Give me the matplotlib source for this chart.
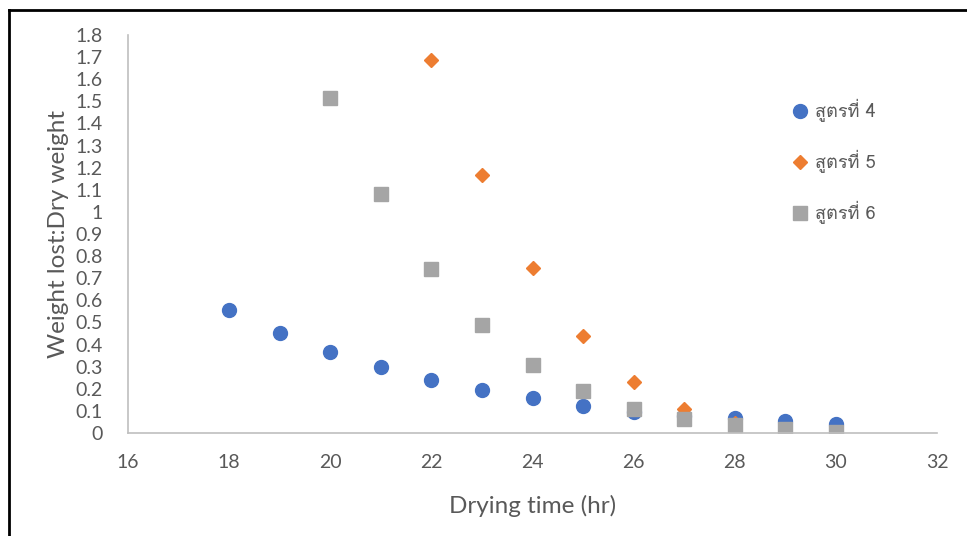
import matplotlib.pyplot as plt
from matplotlib import font_manager
from matplotlib.ft2font import FT2Font
from matplotlib.lines import Line2D

# Data
x4 = [18, 19, 20, 21, 22, 23, 24, 25, 26, 27, 28, 29, 30]
y4 = [0.556, 0.452, 0.366, 0.298, 0.240, 0.194, 0.158, 0.124, 0.097, 0.078, 0.066, 0.052, 0.040]

x5 = [22, 23, 24, 25, 26, 27, 28, 29, 30]
y5 = [1.687, 1.167, 0.746, 0.439, 0.231, 0.110, 0.045, 0.015, -0.010]

x6 = [20, 21, 22, 23, 24, 25, 26, 27, 28, 29, 30]
y6 = [1.515, 1.081, 0.742, 0.488, 0.308, 0.190, 0.110, 0.063, 0.036, 0.018, 0.004]

labels = ['สูตรที่ 4', 'สูตรที่ 5', 'สูตรที่ 6']


# find an installed font that has Thai glyphs
def thai_family():
    for f in font_manager.fontManager.ttflist:
        try:
            if 0x0E2A in FT2Font(f.fname).get_charmap():
                return f.name
        except Exception:
            pass
    return 'DejaVu Sans'


thai = thai_family()
plt.rcParams['font.family'] = ['Lato', 'DejaVu Sans']

fig = plt.figure(figsize=(9.67, 5.36), dpi=100)
ax = fig.add_axes([0.1324, 0.1922, 0.8366, 0.7425])

ax.plot(x4, y4, 'o', color='#4472C4', markersize=10, label=labels[0])
ax.plot(x5, y5, 'D', color='#ED7D31', markersize=7.5, label=labels[1])
ax.plot(x6, y6, 's', color='#A5A5A5', markersize=9.5, label=labels[2])

ax.set_xlim(16, 32)
ax.set_ylim(0, 1.8)
ax.set_xticks(range(16, 33, 2))
yt = [i / 10 for i in range(0, 19)]
ax.set_yticks(yt)
ax.set_yticklabels([('%g' % v) for v in yt])
ax.tick_params(length=0, labelsize=14, labelcolor='#595959')
ax.tick_params(axis='y', pad=18)
ax.tick_params(axis='x', pad=15)

for s in ['top', 'right']:
    ax.spines[s].set_visible(False)
for s in ['left', 'bottom']:
    ax.spines[s].set_color('#BFBFBF')
    ax.spines[s].set_linewidth(1.2)

ax.set_xlabel('Drying time (hr)', fontsize=17.5, color='#595959', labelpad=17)
ax.set_ylabel('Weight lost:Dry weight', fontsize=17.5, color='#595959', labelpad=5)

fig.legend(loc='upper left', bbox_to_anchor=(0.8, 0.846), frameon=False,
           prop={'family': [thai, 'DejaVu Sans'], 'size': 13},
           labelcolor='#595959', labelspacing=1.55, handletextpad=0.3,
           handlelength=1.1)

# outer border (top and left visible)
fig.add_artist(Line2D([8.5 / 967, 1], [1 - 9.5 / 536] * 2, color='black', lw=2))
fig.add_artist(Line2D([8.5 / 967] * 2, [0, 1 - 9.5 / 536], color='black', lw=2))

fig.savefig('out.png', dpi=100)
